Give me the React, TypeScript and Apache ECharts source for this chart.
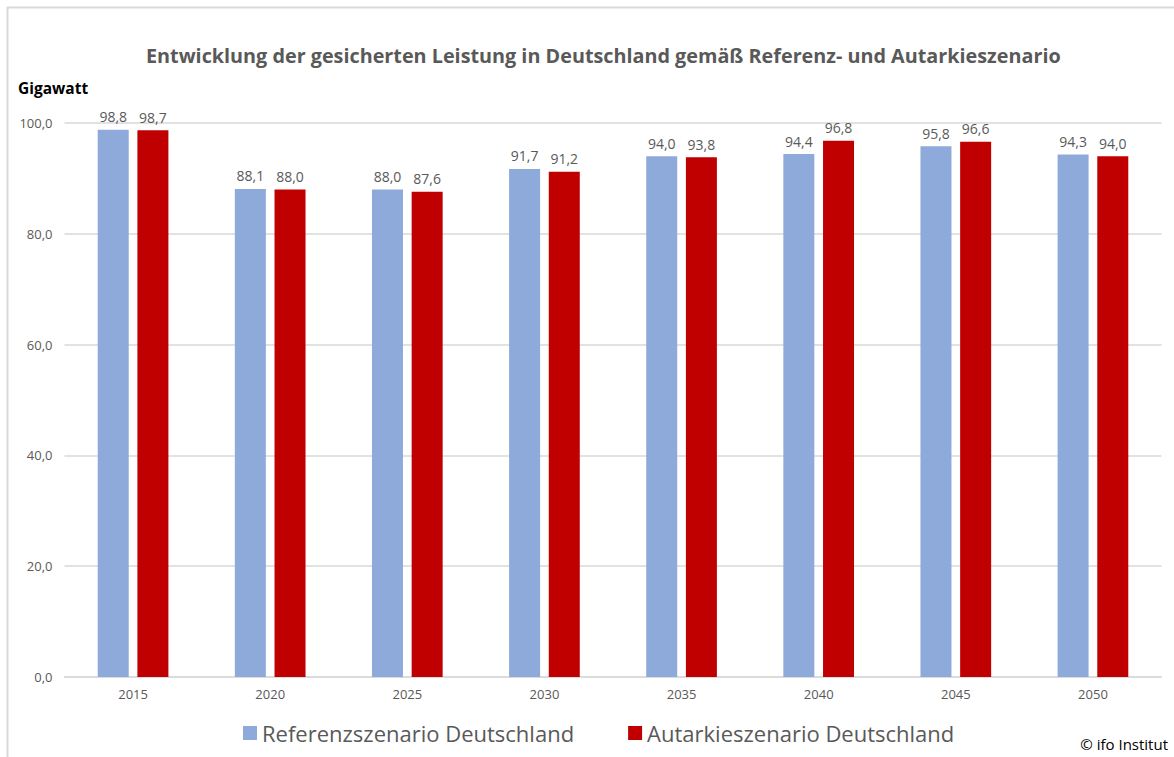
import React, { useEffect, useRef } from "react";
import * as echarts from "echarts";

const years = ["2015", "2020", "2025", "2030", "2035", "2040", "2045", "2050"];
const referenz = [98.8, 88.1, 88.0, 91.7, 94.0, 94.4, 95.8, 94.3];
const autarkie = [98.7, 88.0, 87.6, 91.2, 93.8, 96.8, 96.6, 94.0];
const seriesNames = ["Referenzszenario Deutschland", "Autarkieszenario Deutschland"];
const titleText = "Entwicklung der gesicherten Leistung in Deutschland gemäß Referenz- und Autarkieszenario";
const unitText = "Gigawatt";
const sourceText = "© ifo Institut";

const fmt = (v: number) => v.toFixed(1).replace(".", ",");
const FONT = "'Open Sans', 'Noto Sans', sans-serif";

export default function App() {
  const ref = useRef<HTMLDivElement>(null);
  useEffect(() => {
    document.body.style.margin = "0";
    const chart = echarts.init(ref.current!, null, { renderer: "svg" });
    const labelStyle = {
      show: true,
      position: "top",
      distance: 6,
      color: "#595959",
      fontSize: 14,
      formatter: (p: any) => fmt(p.value),
      fontFamily: FONT,
    };
    chart.setOption({
      animation: false,
      backgroundColor: "#ffffff",
      textStyle: { fontFamily: FONT },
      title: {
        text: titleText,
        left: 141,
        top: 40,
        textStyle: { fontSize: 19.8, fontWeight: "bold", color: "#595959", fontFamily: FONT },
      },
      legend: {
        data: seriesNames,
        bottom: 8,
        left: 238,
        itemWidth: 14,
        itemHeight: 14,
        itemGap: 54,
        icon: "rect",
        textStyle: { fontSize: 22, color: "#595959", fontFamily: FONT },
      },
      grid: { left: 64.5, right: 12.5, top: 123, bottom: 80, containLabel: false },
      xAxis: {
        type: "category",
        data: years,
        axisLine: { lineStyle: { color: "#d9d9d9", width: 1.5 } },
        axisTick: { show: false },
        axisLabel: { color: "#595959", fontSize: 13, margin: 10, fontFamily: FONT },
      },
      yAxis: {
        type: "value",
        min: 0,
        max: 100,
        interval: 20,
        axisLine: { show: false },
        axisTick: { show: false },
        splitLine: { lineStyle: { color: "#d9d9d9", width: 1.5 } },
        axisLabel: { color: "#595959", fontSize: 13, margin: 12, formatter: (v: number) => fmt(v), fontFamily: FONT },
      },
      series: [
        {
          name: seriesNames[0],
          type: "bar",
          data: referenz,
          barWidth: 31,
          barGap: "28%",
          itemStyle: { color: "#8eaadb" },
          label: labelStyle,
        },
        {
          name: seriesNames[1],
          type: "bar",
          data: autarkie,
          barWidth: 31,
          barGap: "28%",
          itemStyle: { color: "#c00000" },
          label: labelStyle,
        },
      ],
      graphic: [
        { type: "line", shape: { x1: 7, y1: 7.5, x2: 1174, y2: 7.5 }, style: { stroke: "#d9d9d9", lineWidth: 2 } },
        { type: "line", shape: { x1: 7.5, y1: 7, x2: 7.5, y2: 757 }, style: { stroke: "#d9d9d9", lineWidth: 2 } },
        { type: "text", left: 18, top: 80, style: { text: unitText, fontSize: 15.5, fontWeight: "bold", fill: "#000000", fontFamily: FONT } },
        { type: "text", right: 6, top: 736, style: { text: sourceText, fontSize: 15, fill: "#000000", fontFamily: FONT } },
      ],
    });
    return () => chart.dispose();
  }, []);
  return <div ref={ref} style={{ width: 1174, height: 757 }} />;
}
